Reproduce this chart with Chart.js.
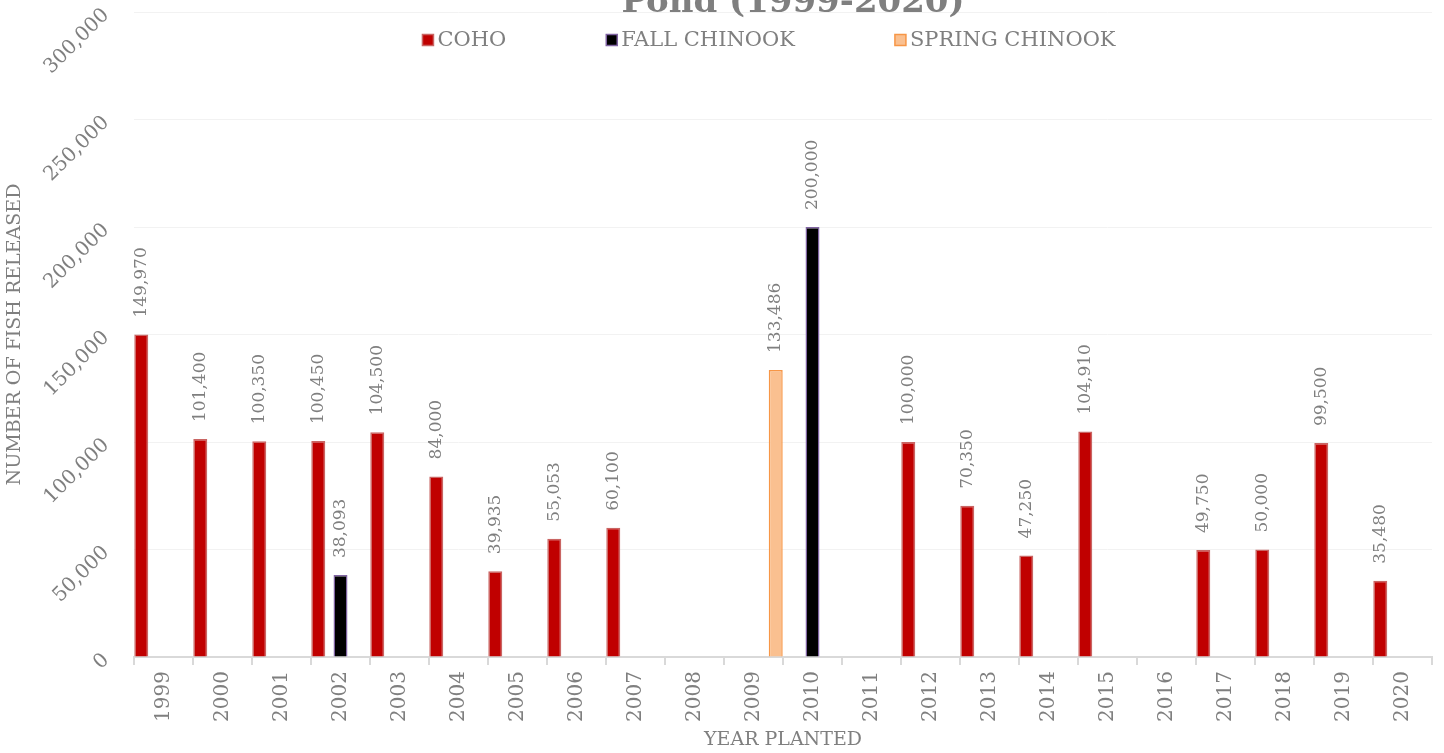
<!DOCTYPE html>
<html>
<head>
<meta charset="utf-8">
<script src="https://cdn.jsdelivr.net/npm/chart.js@4/dist/chart.umd.min.js"></script>
<style>
  body { margin: 0; background: #fff; overflow: hidden; }
  #wrap { width: 1444px; height: 753px; position: relative; }
</style>
</head>
<body>
<div id="wrap"><canvas id="fishChart"></canvas></div>
<script>
// data
var chartTitle = 'Pond (1999-2020)';
var years = ['1999', '2000', '2001', '2002', '2003', '2004', '2005', '2006', '2007', '2008', '2009',
             '2010', '2011', '2012', '2013', '2014', '2015', '2016', '2017', '2018', '2019', '2020'];
var coho = [149970, 101400, 100350, 100450, 104500, 84000, 39935, 55053, 60100, null, null,
            null, null, 100000, 70350, 47250, 104910, null, 49750, 50000, 99500, 35480];
var fallChinook = [null, null, null, 38093, null, null, null, null, null, null, null,
                   200000, null, null, null, null, null, null, null, null, null, null];
var springChinook = [null, null, null, null, null, null, null, null, null, null, 133486,
                     null, null, null, null, null, null, null, null, null, null, null];
var yMax = 300000;
var yStep = 50000;

var textGray = '#7f7f7f';
Chart.defaults.font.family = "'DejaVu Serif', serif";
Chart.defaults.color = textGray;

// value labels, written upward above each bar
var barValues = {
    id: 'barValues',
    afterDatasetsDraw: function (chart) {
        var ctx = chart.ctx;
        ctx.save();
        ctx.fillStyle = textGray;
        ctx.font = "17px 'DejaVu Serif'";
        ctx.textAlign = 'left';
        ctx.textBaseline = 'middle';
        chart.data.datasets.forEach(function (ds, i) {
            var meta = chart.getDatasetMeta(i);
            meta.data.forEach(function (bar, j) {
                var v = ds.data[j];
                if (v === null || v === undefined) return;
                ctx.save();
                ctx.translate(bar.x, bar.y - 17);
                ctx.rotate(-Math.PI / 2);
                ctx.fillText(v.toLocaleString('en-US'), 0, 0);
                ctx.restore();
            });
        });
        ctx.restore();
    }
};

// title (cut off at the top) and the legend row inside the plot
var titleAndLegend = {
    id: 'titleAndLegend',
    afterDraw: function (chart) {
        var ctx = chart.ctx;
        var area = chart.chartArea;
        var mid = (area.left + area.right) / 2;
        ctx.save();
        ctx.fillStyle = textGray;
        ctx.font = "bold 34px 'DejaVu Serif'";
        ctx.textAlign = 'center';
        ctx.textBaseline = 'alphabetic';
        ctx.fillText(chartTitle, mid + 10, 12);

        ctx.font = "21px 'DejaVu Serif'";
        ctx.textAlign = 'left';
        ctx.textBaseline = 'middle';
        var gap = 100, box = 11, boxGap = 4;
        var items = chart.data.datasets.map(function (ds) {
            return { ds: ds, w: box + boxGap + ctx.measureText(ds.label).width };
        });
        var total = items.reduce(function (s, it) { return s + it.w; }, 0) + gap * (items.length - 1);
        var x = mid - 14 - total / 2;
        var y = 40;
        items.forEach(function (it) {
            ctx.fillStyle = it.ds.backgroundColor;
            ctx.fillRect(x, y - box / 2, box, box);
            ctx.strokeStyle = it.ds.borderColor;
            ctx.lineWidth = 1.5;
            ctx.strokeRect(x, y - box / 2, box, box);
            ctx.fillStyle = textGray;
            ctx.fillText(it.ds.label, x + box + boxGap, y + 1);
            x += it.w + gap;
        });
        ctx.restore();
    }
};

var ctx = document.getElementById('fishChart').getContext('2d');
var chart = new Chart(ctx, {
    type: 'bar',
    data: {
        labels: years,
        datasets: [{
            label: 'COHO',
            data: coho,
            backgroundColor: '#c00000',
            borderColor: '#c96563',
            borderWidth: 1.5
        }, {
            label: 'FALL CHINOOK',
            data: fallChinook,
            backgroundColor: '#000000',
            borderColor: '#8064a2',
            borderWidth: 1.5
        }, {
            label: 'SPRING CHINOOK',
            data: springChinook,
            backgroundColor: '#fac090',
            borderColor: '#f79646',
            borderWidth: 1.5
        }]
    },
    options: {
        responsive: true,
        maintainAspectRatio: false,
        animation: false,
        layout: { padding: { top: 12, right: 12, left: 0, bottom: 0 } },
        datasets: {
            bar: { categoryPercentage: 1.13, barPercentage: 0.63 }
        },
        plugins: {
            legend: { display: false },
            title: { display: false },
            tooltip: { enabled: false }
        },
        scales: {
            x: {
                offset: true,
                grid: {
                    offset: true,
                    drawOnChartArea: false,
                    color: '#d9d9d9',
                    tickLength: 8,
                    lineWidth: 2
                },
                border: { color: '#d9d9d9', width: 2 },
                ticks: {
                    minRotation: 90,
                    maxRotation: 90,
                    padding: 6,
                    font: { size: 20 },
                    color: textGray
                },
                title: {
                    display: true,
                    text: 'YEAR PLANTED',
                    font: { size: 19 },
                    color: textGray,
                    padding: { top: 0, bottom: 2 }
                },
                afterFit: function (scale) { scale.height = 96; }
            },
            y: {
                min: 0,
                max: yMax,
                grid: { color: '#f2f2f2', drawTicks: false },
                border: { display: false },
                ticks: {
                    stepSize: yStep,
                    minRotation: 45,
                    maxRotation: 45,
                    padding: 28,
                    font: { size: 20 },
                    color: textGray,
                    callback: function (v) { return v.toLocaleString('en-US'); }
                },
                title: {
                    display: true,
                    text: 'NUMBER OF FISH RELEASED',
                    font: { size: 19 },
                    color: textGray,
                    padding: { top: 4, bottom: 0 }
                },
                afterFit: function (scale) {
                    scale.width = 134;
                    scale.paddingTop = 0;
                    scale.paddingBottom = 0;
                }
            }
        }
    },
    plugins: [barValues, titleAndLegend]
});
</script>
</body>
</html>
